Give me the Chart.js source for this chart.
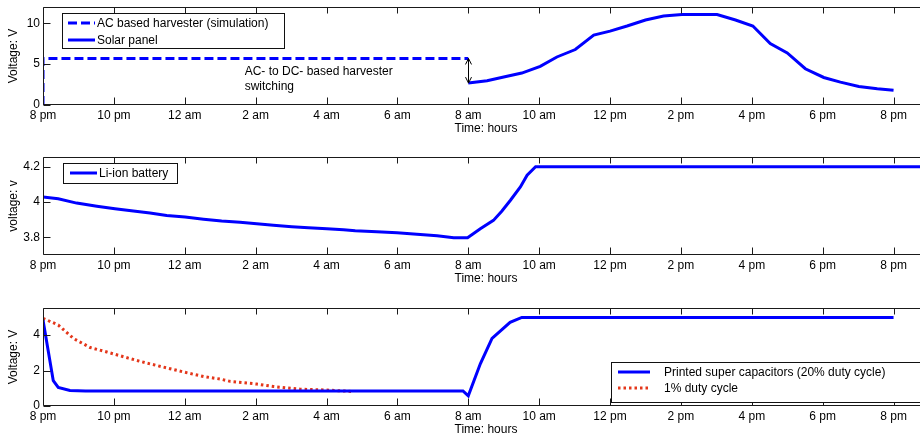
<!DOCTYPE html>
<html>
<head>
<meta charset="utf-8">
<script src="https://cdn.jsdelivr.net/npm/chart.js@4.4.1/dist/chart.umd.min.js"></script>
<style>
  html, body { margin: 0; padding: 0; background: #fff; overflow: hidden; width: 920px; height: 436px; }
  .panel { position: absolute; left: 0; }
  canvas { display: block; }
</style>
</head>
<body>
<div class="panel" style="top:0px"><canvas id="c1" width="929" height="138" style="width:929px;height:138px"></canvas></div>
<div class="panel" style="top:150px"><canvas id="c2" width="929" height="138" style="width:929px;height:138px"></canvas></div>
<div class="panel" style="top:301px"><canvas id="c3" width="929" height="138" style="width:929px;height:138px"></canvas></div>
<script>
// ---------- data ----------
const xTickValues = [0, 2, 4, 6, 8, 10, 12, 14, 16, 18, 20, 22, 24];
const xTickLabels = ['8 pm', '10 pm', '12 am', '2 am', '4 am', '6 am', '8 am', '10 am', '12 pm', '2 pm', '4 pm', '6 pm', '8 pm'];
const xTitle = 'Time: hours';

// Panel 1
const acHours = [0, 0, 12];
const acVolts = [0, 5.7, 5.7];
const solarHours = [12, 12.53, 13.0, 13.51, 14.03, 14.5, 15.02, 15.54, 16.0, 16.48, 17.0, 17.51, 18.03, 19.02, 19.54, 20.03, 20.52, 21.0, 21.51, 22.03, 22.5, 23.02, 23.54, 24.0];
const solarVolts = [2.68, 2.96, 3.42, 3.91, 4.73, 5.88, 6.79, 8.56, 9.05, 9.67, 10.41, 10.9, 11.07, 11.07, 10.41, 9.67, 7.53, 6.38, 4.44, 3.37, 2.8, 2.26, 1.98, 1.81];
const panel1YTicks = [0, 5, 10];

// Panel 2
const liionHours = [0, 0.43, 0.95, 1.52, 2.03, 2.55, 3.02, 3.49, 4.01, 4.53, 5.04, 5.56, 6.03, 6.5, 7.02, 7.49, 8.01, 8.48, 8.81, 9.42, 9.99, 10.55, 11.12, 11.59, 11.98, 12.34, 12.71, 12.95, 13.19, 13.47, 13.66, 13.9, 25];
const liionVolts = [4.028, 4.019, 3.994, 3.976, 3.962, 3.949, 3.938, 3.924, 3.915, 3.903, 3.892, 3.885, 3.877, 3.868, 3.86, 3.854, 3.849, 3.843, 3.837, 3.832, 3.826, 3.818, 3.809, 3.798, 3.798, 3.849, 3.896, 3.949, 4.01, 4.085, 4.152, 4.2, 4.2];
const panel2YTicks = [3.8, 4, 4.2];

// Panel 3
const superHours = [0, 0.29, 0.43, 0.76, 1.2, 11.85, 12.0, 12.34, 12.67, 13.18, 13.51, 24.0];
const superVolts = [4.85, 1.43, 1.05, 0.88, 0.85, 0.85, 0.57, 2.38, 3.81, 4.72, 5.0, 5.0];
const dutyHours = [0, 0.43, 0.86, 1.33, 1.8, 2.41, 2.93, 3.49, 4.01, 4.53, 5.0, 5.28, 6.03, 6.5, 7.26, 8.01, 8.72];
const dutyVolts = [4.95, 4.57, 3.81, 3.3, 3.05, 2.7, 2.42, 2.15, 1.9, 1.66, 1.52, 1.39, 1.24, 1.1, 0.95, 0.9, 0.82];
const panel3YTicks = [0, 2, 4];

const pts = (xs, ys) => xs.map((x, i) => ({ x: x, y: ys[i] }));

// ---------- styling ----------
const FONT = '"Liberation Sans", Arial, Helvetica, sans-serif';
Chart.defaults.font.family = FONT;
Chart.defaults.font.size = 12;
Chart.defaults.color = '#000';
const BLUE = '#0000ff';
const RED = '#e4361a';

const framePlugin = {
  id: 'frame',
  afterDatasetsDraw(chart) {
    const { ctx, chartArea: a, scales: { x, y } } = chart;
    ctx.save();
    ctx.strokeStyle = '#1a1a1a'; ctx.lineWidth = 1; ctx.setLineDash([]);
    const L = Math.round(a.left) + 0.5, R = Math.round(a.right) - 0.5, T = Math.round(a.top) + 0.5, B = Math.round(a.bottom) - 0.5;
    ctx.beginPath();
    ctx.moveTo(L, T); ctx.lineTo(R, T); ctx.lineTo(R, B); ctx.lineTo(L, B); ctx.closePath();
    ctx.stroke();
    ctx.beginPath();
    x.ticks.forEach(t => {
      const px = Math.round(x.getPixelForValue(t.value)) + 0.5;
      ctx.moveTo(px, T); ctx.lineTo(px, T + 6);
      ctx.moveTo(px, B); ctx.lineTo(px, B - 7);
    });
    y.ticks.forEach(t => {
      const py = Math.round(y.getPixelForValue(t.value)) + 0.5;
      ctx.moveTo(L, py); ctx.lineTo(L + 7, py);
    });
    ctx.stroke();
    ctx.restore();
  }
};

const legendPlugin = {
  id: 'boxLegend',
  afterDraw(chart, args, o) {
    if (!o || !o.items) return;
    const ctx = chart.ctx;
    ctx.save();
    ctx.fillStyle = '#fff';
    ctx.fillRect(o.x, o.y, o.w, o.h);
    ctx.strokeStyle = '#111'; ctx.lineWidth = 1; ctx.setLineDash([]);
    ctx.strokeRect(o.x + 0.5, o.y + 0.5, o.w, o.h);
    o.items.forEach(it => {
      const ds = chart.data.datasets[it.ds];
      ctx.beginPath();
      ctx.setLineDash(ds.borderDash || []);
      ctx.strokeStyle = ds.borderColor; ctx.lineWidth = ds.borderWidth; ctx.lineCap = 'butt';
      ctx.moveTo(o.lx0, it.y); ctx.lineTo(o.lx1, it.y); ctx.stroke();
      ctx.setLineDash([]);
      ctx.fillStyle = '#000'; ctx.font = '12px ' + FONT;
      ctx.textAlign = 'left'; ctx.textBaseline = 'middle';
      ctx.fillText(ds.label, o.tx, it.y + 0.5);
    });
    ctx.restore();
  }
};

const notePlugin = {
  id: 'note',
  afterDatasetsDraw(chart, args, o) {
    if (!o || !o.lines) return;
    const { ctx, scales: { x, y } } = chart;
    ctx.save();
    ctx.fillStyle = '#000'; ctx.font = '12px ' + FONT;
    ctx.textAlign = 'left'; ctx.textBaseline = 'middle';
    const tx = x.getPixelForValue(o.textAt[0]), ty = y.getPixelForValue(o.textAt[1]);
    o.lines.forEach((s, i) => ctx.fillText(s, tx, ty + i * 15));
    const ax = Math.round(x.getPixelForValue(o.arrowX)) + 0.5;
    const y0 = y.getPixelForValue(o.arrowFrom), y1 = y.getPixelForValue(o.arrowTo);
    ctx.strokeStyle = '#000'; ctx.lineWidth = 1;
    ctx.beginPath();
    ctx.moveTo(ax, y0); ctx.lineTo(ax, y1);
    ctx.moveTo(ax - 3, y0 + 6); ctx.lineTo(ax, y0); ctx.lineTo(ax + 3, y0 + 6);
    ctx.moveTo(ax - 3, y1 - 6); ctx.lineTo(ax, y1); ctx.lineTo(ax + 3, y1 - 6);
    ctx.stroke();
    ctx.restore();
  }
};

function zeroPad(s) { s.paddingTop = 0; s.paddingBottom = 0; s.paddingLeft = 0; s.paddingRight = 0; }

function makeChart(id, datasets, yMin, yMax, yTicks, yTitle, pluginOpts, extraPlugins) {
  return new Chart(document.getElementById(id), {
    type: 'line',
    data: { datasets: datasets },
    options: {
      responsive: false,
      animation: false,
      layout: { padding: { top: 7, left: 0, right: 0, bottom: 0 } },
      elements: { point: { radius: 0 }, line: { tension: 0 } },
      plugins: Object.assign({ legend: { display: false }, tooltip: { enabled: false } }, pluginOpts),
      scales: {
        x: {
          type: 'linear', min: 0, max: 25,
          grid: { display: false, drawTicks: false },
          border: { display: false },
          afterBuildTicks: s => { s.ticks = xTickValues.map(v => ({ value: v })); },
          afterFit: s => { s.height = 33; zeroPad(s); },
          ticks: { padding: 3, maxRotation: 0, autoSkip: false, color: '#000', font: { size: 12 },
                   callback: v => xTickLabels[xTickValues.indexOf(v)] },
          title: { display: true, text: xTitle, color: '#000', font: { size: 12 }, padding: { top: 0, bottom: 2 } }
        },
        y: {
          type: 'linear', min: yMin, max: yMax,
          grid: { display: false, drawTicks: false },
          border: { display: false },
          afterBuildTicks: s => { s.ticks = yTicks.map(v => ({ value: v })); },
          afterFit: s => { s.width = 43; zeroPad(s); },
          ticks: { padding: 3, color: '#000', font: { size: 12 }, callback: v => String(v) },
          title: { display: true, text: yTitle, color: '#000', font: { size: 12 }, padding: { top: 6, bottom: 0 } }
        }
      }
    },
    plugins: [framePlugin, legendPlugin].concat(extraPlugins || [])
  });
}

makeChart('c1', [
  { label: 'AC based harvester (simulation)', data: pts(acHours, acVolts), borderColor: BLUE, borderWidth: 3, borderDash: [9, 4], fill: false },
  { label: 'Solar panel', data: pts(solarHours, solarVolts), borderColor: BLUE, borderWidth: 3, fill: false }
], 0, 12, panel1YTicks, 'Voltage: V', {
  boxLegend: { x: 62, y: 13, w: 222, h: 35, lx0: 68, lx1: 95, tx: 97, items: [{ ds: 0, y: 23 }, { ds: 1, y: 40 }] },
  note: { lines: ['AC- to DC- based harvester', 'switching'], textAt: [5.69, 4.07], arrowX: 12, arrowFrom: 5.7, arrowTo: 2.68 }
}, [notePlugin]);

makeChart('c2', [
  { label: 'Li-ion battery', data: pts(liionHours, liionVolts), borderColor: BLUE, borderWidth: 3, fill: false }
], 3.7, 4.255, panel2YTicks, 'voltage: v', {
  boxLegend: { x: 63, y: 13, w: 114, h: 20, lx0: 70, lx1: 97, tx: 99, items: [{ ds: 0, y: 23 }] }
});

makeChart('c3', [
  { label: 'Printed super capacitors (20% duty cycle)', data: pts(superHours, superVolts), borderColor: BLUE, borderWidth: 3, fill: false },
  { label: '1% duty cycle', data: pts(dutyHours, dutyVolts), borderColor: RED, borderWidth: 3, borderDash: [2.5, 3], fill: false }
], 0, 5.53, panel3YTicks, 'Voltage: V', {
  boxLegend: { x: 611, y: 61, w: 320, h: 40, lx0: 618, lx1: 650, tx: 664, items: [{ ds: 0, y: 71 }, { ds: 1, y: 87 }] }
});
</script>
</body>
</html>
